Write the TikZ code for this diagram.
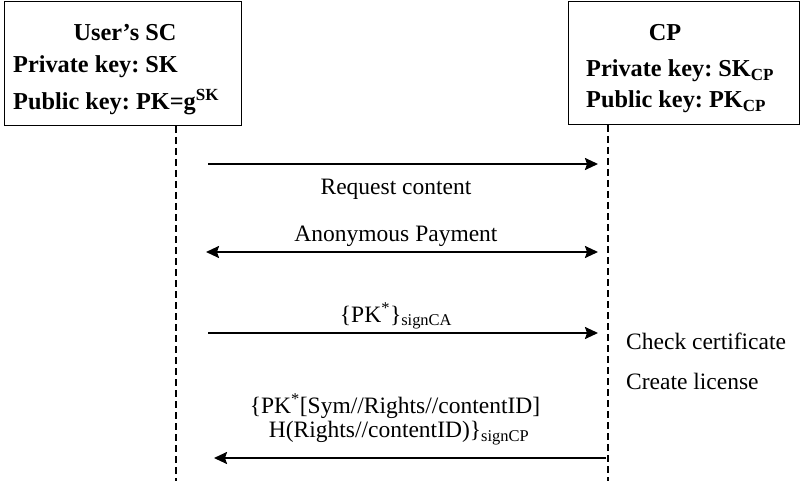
\documentclass[tikz,border=0pt]{standalone}
\usepackage{fontspec}
\setmainfont{Liberation Serif}
\usetikzlibrary{arrows.meta}
\begin{document}
\frenchspacing
\begin{tikzpicture}[x=1pt,y=-1pt,
  every node/.style={inner sep=0pt,font=\fontsize{23.5}{28}\selectfont},
  actor/.style={draw,line width=1pt,anchor=north west},
  btxt/.style={font=\fontsize{24.3}{28}\selectfont\bfseries},
  lifeline/.style={line width=2.5pt,dash pattern=on 7pt off 4pt},
  tip/.tip={Stealth[length=13pt,width=12pt,inset=2pt]},
  msg/.style={line width=2pt,-tip},
  msgb/.style={line width=2pt,tip-tip}]
\useasboundingbox (0,0) rectangle (800,481);
% boxes
\node[actor,minimum width=237pt,minimum height=124pt] (user) at (4,1) {};
\node[actor,minimum width=231pt,minimum height=123pt] (cp) at (568,1) {};
% box texts
\node[btxt] (userT) at (125,33) {User’s SC};
\node[btxt,anchor=west] (userSK) at (13,67) {Private key: SK};
\node[btxt,anchor=west] (userPK) at (13,102) {Public key: PK=g\textsuperscript{SK}};
\node[btxt] (cpT) at (665,33) {CP};
\node[btxt,anchor=west] (cpSK) at (586,71) {Private key: SK\textsubscript{CP}};
\node[btxt,anchor=west] (cpPK) at (586,102) {Public key: PK\textsubscript{CP}};
% lifelines
\coordinate (uEnd) at (176,481);
\coordinate (cEnd) at (608,481);
\draw[lifeline] (user.south -| uEnd) -- (uEnd);
\draw[lifeline] (cp.south -| cEnd) -- (cEnd);
% message endpoints
\coordinate (a1) at (208,164); \coordinate (b1) at (598,164);
\coordinate (a2) at (206,252); \coordinate (b2) at (598,252);
\coordinate (a3) at (208,333); \coordinate (b3) at (598,333);
\coordinate (a4) at (214,458); \coordinate (b4) at (606,458);
\draw[msg] (a1) -- (b1);
\draw[msgb] (a2) -- (b2);
\draw[msg] (a3) -- (b3);
\draw[msg] (b4) -- (a4);
% labels
\node (l1) at (396,189) {Request content};
\node (l2) at (396,236) {Anonymous Payment};
\node (l3) at (396,316) {\{PK\textsuperscript{*}\}\textsubscript{signCA}};
\node (l4a) at (395,406) {\{PK\textsuperscript{*}[Sym//Rights//contentID]};
\node (l4b) at (399,433) {H(Rights//contentID)\}\textsubscript{signCP}};
\node[anchor=west] (c1) at (626,341) {Check certificate};
\node[anchor=west] (c2) at (626,381) {Create license};
\end{tikzpicture}
\end{document}
